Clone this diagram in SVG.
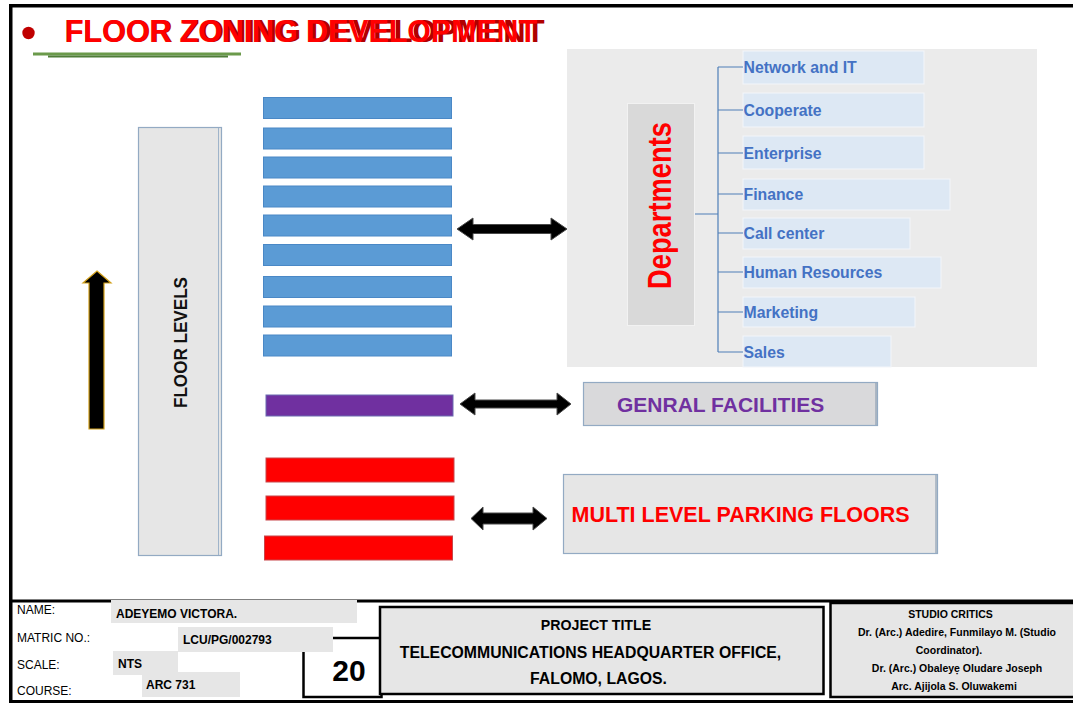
<svg xmlns="http://www.w3.org/2000/svg" width="1073" height="703" viewBox="0 0 1073 703">
  <style>
    .sans { font-family: "Liberation Sans", Arial, sans-serif; }
    .b { font-weight: bold; }
    .blue { fill: #5b9bd5; stroke: #4a88c6; stroke-width: 1; }
    .red { fill: #ff0000; stroke: #c8464a; stroke-width: 1; }
    .item { fill: #dde8f4; stroke: #f3f6fa; stroke-width: 1; }
    .itemtxt { font-size: 15.8px; font-weight: bold; fill: #4472c4; }
    .tree { fill: none; stroke: #4f7fb8; stroke-width: 1.2; }
    .dbl { fill: #000; stroke: #4a4a4a; stroke-width: 1; stroke-linejoin: miter; }
    .panel { fill: #e6e6e6; stroke: #93aac3; stroke-width: 1.2; }
    .lbl { font-size: 12px; fill: #000; }
    .val { font-size: 12px; font-weight: bold; fill: #000; }
    .gbox { fill: #e6e6e6; }
    .crit { font-size: 10.5px; font-weight: bold; fill: #000; text-anchor: middle; }
  </style>

  <rect x="0" y="0" width="1073" height="703" fill="#ffffff"/>

  <!-- sheet frame -->
  <g id="frame" fill="#000">
    <rect x="9" y="4" width="1064" height="3.5"/>
    <rect x="9" y="4" width="3.5" height="699"/>
    <rect x="9" y="599.5" width="1064" height="3"/>
    <rect x="9" y="700" width="1064" height="3"/>
  </g>

  <!-- heading -->
  <g id="heading">
    <circle cx="28.5" cy="33" r="6.2" fill="#c00000"/>
    <text class="sans b" x="64.5" y="41.5" font-size="30.5" fill="#b00000" textLength="480" lengthAdjust="spacingAndGlyphs">FLOOR ZONING DEVELOPMENT</text>
    <text class="sans b" x="65" y="41.5" font-size="30.5" fill="#ff0000" textLength="472" lengthAdjust="spacingAndGlyphs">FLOOR ZONING DEVELOPMENT</text>
    <rect x="33" y="52.5" width="208" height="3" fill="#6b9a4b"/>
    <rect x="48" y="55.5" width="180" height="2" fill="#4f7d38"/>
  </g>

  <!-- direction arrow -->
  <g id="up-arrow">
    <polygon points="97,271 111,283 104,283 104,429 89,429 89,283 83,283" fill="#000" stroke="#d2a01a" stroke-width="1.2"/>
  </g>

  <!-- floor levels bar -->
  <g id="floor-levels">
    <rect x="138.5" y="127.5" width="83" height="428" class="panel" fill="#e5e5e5"/>
    <line x1="218.5" y1="128" x2="218.5" y2="555" stroke="#9fb4ca" stroke-width="1"/>
    <text class="sans" transform="translate(187,342.5) rotate(-90)" text-anchor="middle" font-size="18.5" font-weight="bold" fill="#111" textLength="131" lengthAdjust="spacingAndGlyphs">FLOOR LEVELS</text>
  </g>

  <!-- office floors -->
  <g id="office-floors">
    <rect class="blue" x="263.5" y="97.5" width="188" height="21"/>
    <rect class="blue" x="263.5" y="128" width="188" height="21"/>
    <rect class="blue" x="263.5" y="157" width="188" height="21"/>
    <rect class="blue" x="263.5" y="186" width="188" height="21"/>
    <rect class="blue" x="263.5" y="215" width="188" height="21"/>
    <rect class="blue" x="263.5" y="244.5" width="188" height="21"/>
    <rect class="blue" x="263.5" y="276.5" width="188" height="21"/>
    <rect class="blue" x="263.5" y="306" width="188" height="21"/>
    <rect class="blue" x="263.5" y="335" width="188" height="21"/>
  </g>

  <!-- facilities floor -->
  <g id="facilities-floor">
    <rect x="266" y="395" width="187" height="21" fill="#7030a0" stroke="#6a6ab0" stroke-width="1"/>
  </g>

  <!-- parking floors -->
  <g id="parking-floors">
    <rect class="red" x="266" y="458" width="188" height="24"/>
    <rect class="red" x="266" y="496" width="188" height="24"/>
    <rect class="red" x="264.5" y="536" width="188" height="24"/>
  </g>

  <!-- departments panel -->
  <g id="departments">
    <rect x="567" y="49" width="470" height="318" fill="#ebebeb"/>
    <rect x="627.5" y="103.5" width="67" height="222" fill="#d9d9d9" stroke="#f2f2f2" stroke-width="1"/>
    <text class="sans b" transform="translate(670.5,205.5) rotate(-90)" text-anchor="middle" font-size="33" fill="#ff0000" textLength="167" lengthAdjust="spacingAndGlyphs">Departments</text>
  </g>

  <g id="dept-network"><rect class="item" x="743" y="51" width="181" height="33"/><text class="sans itemtxt" x="743.5" y="72.5">Network and IT</text></g>
  <g id="dept-cooperate"><rect class="item" x="743" y="93" width="181" height="34"/><text class="sans itemtxt" x="743.5" y="115.5">Cooperate</text></g>
  <g id="dept-enterprise"><rect class="item" x="743" y="136" width="181" height="33"/><text class="sans itemtxt" x="743.5" y="158.5">Enterprise</text></g>
  <g id="dept-finance"><rect class="item" x="743" y="179" width="207" height="31"/><text class="sans itemtxt" x="743.5" y="199.5">Finance</text></g>
  <g id="dept-callcenter"><rect class="item" x="743" y="218" width="167" height="31"/><text class="sans itemtxt" x="743.5" y="238.5">Call center</text></g>
  <g id="dept-hr"><rect class="item" x="743" y="257" width="198" height="31"/><text class="sans itemtxt" x="743.5" y="278">Human Resources</text></g>
  <g id="dept-marketing"><rect class="item" x="743" y="297" width="172" height="30"/><text class="sans itemtxt" x="743.5" y="317.5">Marketing</text></g>
  <g id="dept-sales"><rect class="item" x="743" y="336" width="148" height="31"/><text class="sans itemtxt" x="743.5" y="357.5">Sales</text></g>

  <!-- general facilities -->
  <g id="general-facilities">
    <rect x="583.5" y="382.5" width="294" height="43" fill="#d9d9db" stroke="#93aac3" stroke-width="1.2"/>
    <line x1="876" y1="383" x2="876" y2="425" stroke="#7f93aa" stroke-width="1"/>
    <text class="sans b" x="617" y="411.5" font-size="21" fill="#7030a0">GENRAL FACILITIES</text>
  </g>

  <!-- parking label -->
  <g id="parking-label">
    <rect x="563.5" y="474.5" width="374" height="79" class="panel"/>
    <line x1="936" y1="475" x2="936" y2="553" stroke="#7f93aa" stroke-width="1"/>
    <text class="sans b" x="571.5" y="522" font-size="21.5" fill="#ff0000">MULTI LEVEL PARKING FLOORS</text>
  </g>

  <!-- connectors -->
  <g id="connectors">
    <path class="tree" d="M695,214 H718 M718,67 V352 M718,67 H743 M718,110 H743 M718,153 H743 M718,194 H743 M718,233 H743 M718,272 H743 M718,312 H743 M718,352 H743"/>
    <polygon class="dbl" points="457,229 473,218 473,224.5 551,224.5 551,218 567,229 551,240 551,233.5 473,233.5 473,240"/>
    <polygon class="dbl" points="460,404 475,393 475,400 557,400 557,393 571,404 557,415 557,408 475,408 475,415"/>
    <polygon class="dbl" points="471,518.5 483,507 483,513 533,513 533,507 547,518.5 533,530 533,524 483,524 483,530"/>
  </g>

  <!-- title block -->
  <g id="title-block">
    <rect x="303.5" y="638" width="78" height="59" fill="#fff" stroke="#000" stroke-width="2.5"/>
    <text class="sans b" x="349" y="681" font-size="30" text-anchor="middle" fill="#000">20</text>

    <rect class="gbox" x="111" y="600" width="246" height="23"/>
    <rect class="gbox" x="178" y="627" width="155" height="25"/>
    <rect class="gbox" x="113" y="651" width="65" height="24"/>
    <rect class="gbox" x="142" y="672" width="98" height="25"/>

    <text class="sans lbl" x="17" y="614">NAME:</text>
    <text class="sans lbl" x="17" y="642">MATRIC NO.:</text>
    <text class="sans lbl" x="17" y="669">SCALE:</text>
    <text class="sans lbl" x="17" y="695">COURSE:</text>

    <text class="sans val" x="116" y="618">ADEYEMO VICTORA.</text>
    <text class="sans val" x="183" y="644">LCU/PG/002793</text>
    <text class="sans val" x="118" y="668">NTS</text>
    <text class="sans val" x="146" y="689">ARC 731</text>
  </g>

  <g id="project-title">
    <rect x="380" y="607" width="443.5" height="87" fill="#e6e6e6" stroke="#000" stroke-width="2.5"/>
    <text class="sans b" x="596" y="630" font-size="14.2" text-anchor="middle" fill="#000">PROJECT TITLE</text>
    <text class="sans b" x="590.5" y="658" font-size="15.8" text-anchor="middle" fill="#000">TELECOMMUNICATIONS HEADQUARTER OFFICE,</text>
    <text class="sans b" x="598.5" y="683.5" font-size="15.8" text-anchor="middle" fill="#000">FALOMO, LAGOS.</text>
  </g>

  <g id="studio-critics">
    <rect x="830.5" y="603" width="245" height="94" fill="#e6e6e6" stroke="#000" stroke-width="2.5"/>
    <text class="sans crit" x="950.5" y="618">STUDIO CRITICS</text>
    <text class="sans crit" x="957" y="636">Dr. (Arc.) Adedire, Funmilayo M. (Studio</text>
    <text class="sans crit" x="949" y="654">Coordinator).</text>
    <text class="sans crit" x="957" y="672">Dr. (Arc.) Obaleyẹ Oludare Joseph</text>
    <text class="sans crit" x="954" y="690">Arc. Ajijola S. Oluwakemi</text>
  </g>
</svg>
